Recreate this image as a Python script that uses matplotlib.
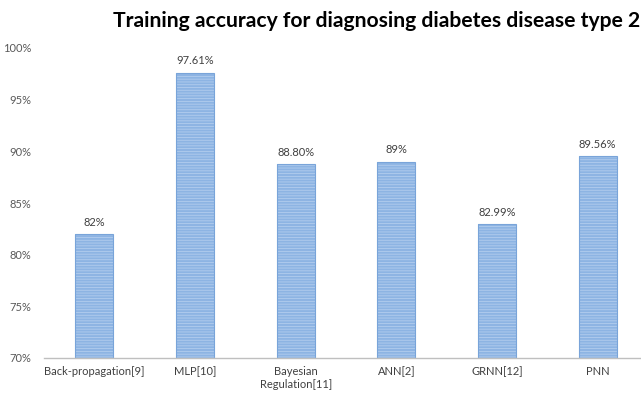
import matplotlib
matplotlib.use("Agg")
from matplotlib import pyplot as plt
from matplotlib.ticker import FuncFormatter

methods = ["Back-propagation[9]", "MLP[10]", "Bayesian\nRegulation[11]", "ANN[2]", "GRNN[12]", "PNN"]
accuracy = [82.0, 97.61, 88.80, 89.0, 82.99, 89.56]
value_labels = ["82%", "97.61%", "88.80%", "89%", "82.99%", "89.56%"]
y_ticks = [70, 75, 80, 85, 90, 95, 100]

plt.rcParams["hatch.linewidth"] = 0.6

fig = plt.figure(figsize=(6.41, 3.99), dpi=100)
ax = fig.add_axes([44 / 641, 41 / 399, 604 / 641, 310 / 399])

x = range(len(methods))
# striped fill, then a slightly darker outline on top
ax.bar(x, [a - 70 for a in accuracy], bottom=70, width=0.38, color="#8db4e3",
       edgecolor="#b3cdee", hatch="------", linewidth=0)
ax.bar(x, [a - 70 for a in accuracy], bottom=70, width=0.38, fill=False,
       edgecolor="#79a4d9", linewidth=0.8)

for xi, a, lab in zip(x, accuracy, value_labels):
    ax.text(xi, a + 0.6, lab, ha="center", va="bottom", fontsize=8,
            color="#404040", family="Lato")

ax.set_xlim(-0.5, len(methods) - 0.5)
ax.set_ylim(70, 100)
ax.set_yticks(y_ticks)
ax.yaxis.set_major_formatter(FuncFormatter(lambda v, p: f"{v:.0f}%"))
ax.set_xticks(list(x))
ax.set_xticklabels(methods, fontsize=8, color="#404040", family="Lato")
for t in ax.get_yticklabels():
    t.set_fontsize(8)
    t.set_color("#595959")
    t.set_family("Lato")
ax.tick_params(axis="both", length=0, pad=6)
ax.tick_params(axis="y", pad=9)

for s in ["top", "right", "left"]:
    ax.spines[s].set_visible(False)
ax.spines["bottom"].set_color("#bfbfbf")
ax.spines["bottom"].set_linewidth(1.0)

fig.text(0.999, 0.947, "Training accuracy for diagnosing diabetes disease type 2",
         ha="right", va="center", fontsize=15.2, fontweight="bold",
         family="Lato", color="black")

fig.savefig("out.png", dpi=100)
